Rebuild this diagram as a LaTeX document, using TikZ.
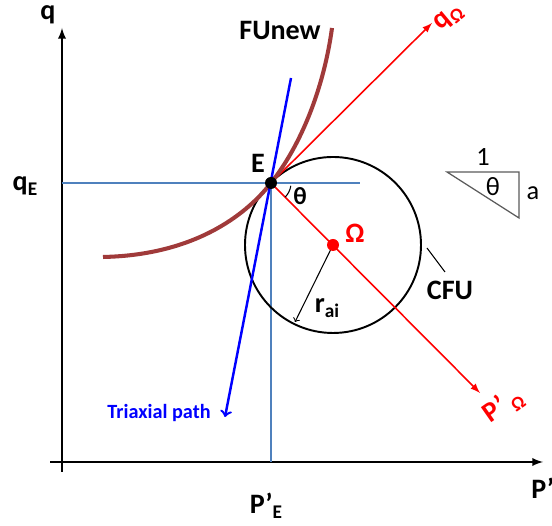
\documentclass[tikz,border=0pt]{standalone}
\usepackage{fontspec}
\setmainfont{Carlito}
\usepackage{tikz}
\usetikzlibrary{arrows, positioning, calc}
\definecolor{funewbrown}{RGB}{160,58,58}
\definecolor{gridblue}{RGB}{79,129,189}
\definecolor{pathblue}{RGB}{0,0,255}
\definecolor{omegared}{RGB}{255,0,0}
\definecolor{triagray}{RGB}{90,90,90}
\newcommand{\lowsub}[1]{\raisebox{-0.4ex}{\fontsize{11}{12}\selectfont #1}}

\begin{document}
\begin{tikzpicture}[x=0.02cm, y=0.02cm,
    lbl/.style={font=\bfseries\fontsize{16}{18}\selectfont, inner sep=0pt},
    small/.style={font=\fontsize{15}{17}\selectfont, inner sep=0pt}]
    \useasboundingbox (0,0) rectangle (552,526);

    % Key points
    \coordinate (E) at (271,343);
    \coordinate (Om) at (333,281);

    % Axes
    \draw[line width=1.1pt, -latex] (62,54) -- (62,498) coordinate (qtip);
    \draw[line width=1.1pt, -latex] (50,64) -- (543,64) coordinate (ptip);
    \node[lbl] (qlab) at (48,511) {q};
    \node[lbl, anchor=west] (plab) at (531,38) {P’};
    \node[lbl] (qElab) at (25,340) {q\lowsub{E}};
    \node[lbl] (pElab) at (266,20) {P’\lowsub{E}};

    % Guide lines through E
    \draw[gridblue, line width=0.6pt] (62,343) -- (E) -- (360,343);
    \draw[gridblue, line width=0.6pt] (E) -- (271,64);

    % Circle CFU
    \draw[line width=1.1pt] (Om) circle (88);
    \coordinate (cfuA) at (427,278);
    \node[lbl] (cfu) at (450,236) {CFU};
    \draw[line width=0.6pt] (cfuA) -- (445,254);

    % Normal direction
    \draw[omegared, line width=0.9pt, -latex] (E) -- (432,503) coordinate (qOm);
    \draw[omegared, line width=0.9pt, -latex] (E) -- (480,133) coordinate (pOm);
    \node[lbl, text=omegared, rotate=40] (qOmlab) at (449,508) {q\lowsub{Ω}};
    \node[lbl, text=omegared, rotate=35] (pOmlab) at (503,120) {P’\,\lowsub{Ω}};

    % FUnew
    \draw[funewbrown, line width=2.3pt] (103,269) .. controls (200,271) and (250,316) .. (E)
        .. controls (305,386) and (325,446) .. (332,498);
    \node[lbl] (funew) at (280,495) {FUnew};

    % Triaxial path
    \draw[pathblue, line width=1.4pt, ->] (291,448) -- (225,109) coordinate (tpend);
    \node[font=\bfseries\fontsize{11.5}{13}\selectfont, text=pathblue, inner sep=0pt] (tplab) at (159,113) {Triaxial path};

    % Radius
    \draw[line width=0.6pt, ->] (Om) -- (295,204);
    \node[lbl] (rlab) at (327,218) {r\lowsub{ai}};

    % Angle at E
    \draw[line width=0.6pt] ($(E)+(-8:20)$) arc (-8:-45:20);
    \node[font=\bfseries\fontsize{14}{16}\selectfont, inner sep=0pt] (thE) at (300,330) {θ};

    % Points
    \fill[omegared] (Om) circle (6);
    \fill (E) circle (6);
    \node[lbl] (Elab) at (258,363) {E};
    \node[lbl, text=omegared] (Omlab) at (355,293) {Ω};

    % Slope triangle
    \draw[triagray, line width=0.7pt] (447,354) coordinate (tA) -- (519,354) coordinate (tB)
        -- (519,308) coordinate (tC) -- cycle;
    \node[small] (one) at (483,369) {1};
    \node[small] (thT) at (493,339) {θ};
    \node[small] (alab) at (533,333) {a};
\end{tikzpicture}
\end{document}
